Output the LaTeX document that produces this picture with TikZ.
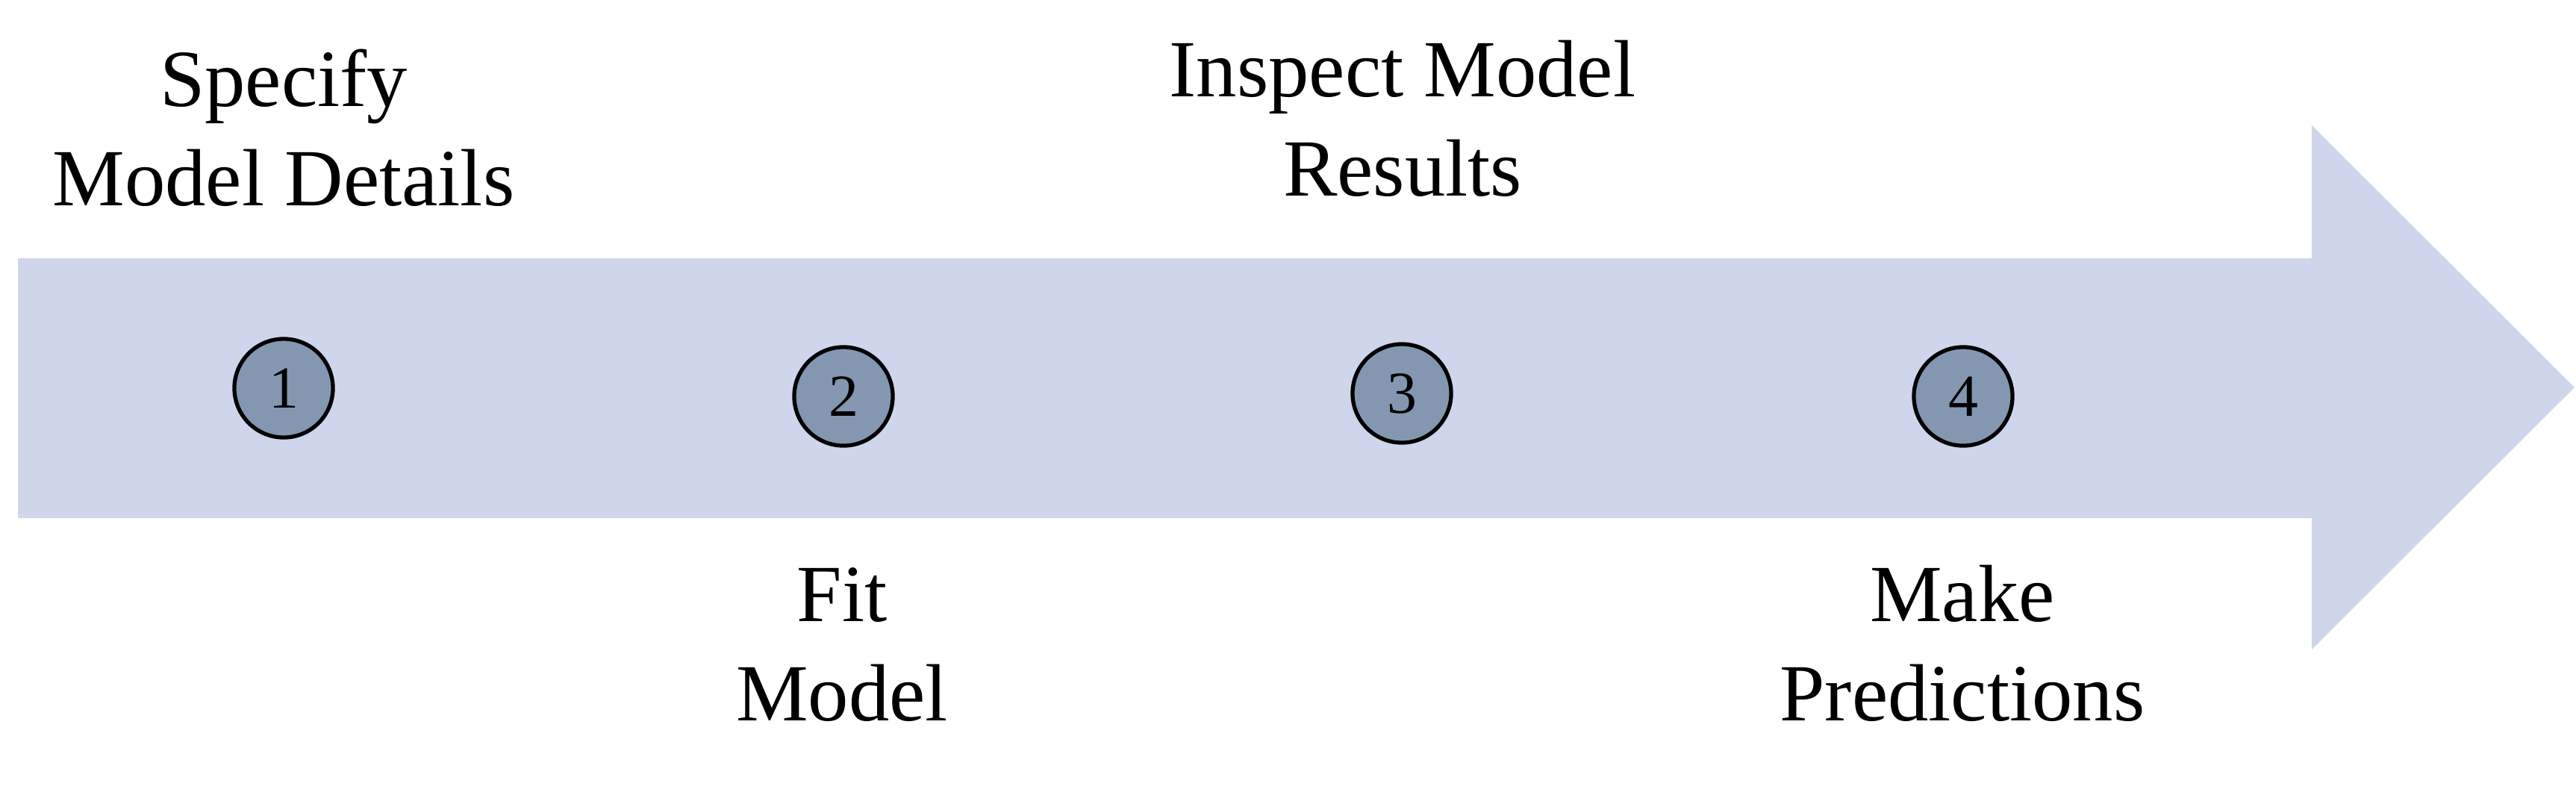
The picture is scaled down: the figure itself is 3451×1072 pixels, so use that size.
\documentclass[tikz,border=0pt]{standalone}
\usepackage{fontspec}
\setmainfont{Liberation Serif}
\definecolor{barcol}{HTML}{CFD5EA}
\definecolor{dotcol}{HTML}{8497B0}
\tikzset{
  stepdot/.style={circle, draw=black, line width=1.5pt, fill=dotcol, minimum size=1.32cm, inner sep=0pt, font=\fontsize{22.7}{26}\selectfont},
  steplabel/.style={align=center, anchor=base, inner sep=0pt, font=\fontsize{30.9}{37.6}\selectfont}
}
\begin{document}
\begin{tikzpicture}[x=0.01cm, y=-0.01cm]
\useasboundingbox (0,0) rectangle (3451,1072);
\fill[barcol] (24,346) -- (3097,346) -- (3097,168) -- (3449,519) -- (3097,870) -- (3097,694) -- (24,694) -- cycle;
\node[stepdot] (s1) at (380,520) {1};
\node[stepdot] (s2) at (1130,531) {2};
\node[stepdot] (s3) at (1878,527) {3};
\node[stepdot] (s4) at (2630,531) {4};
\node[steplabel] (l1) at (380,275) {Specify\\Model Details};
\node[steplabel] (l2) at (1128,965) {Fit\\Model};
\node[steplabel] (l3) at (1879,262) {Inspect Model\\Results};
\node[steplabel] (l4) at (2629,965) {Make\\Predictions};
\end{tikzpicture}
\end{document}
